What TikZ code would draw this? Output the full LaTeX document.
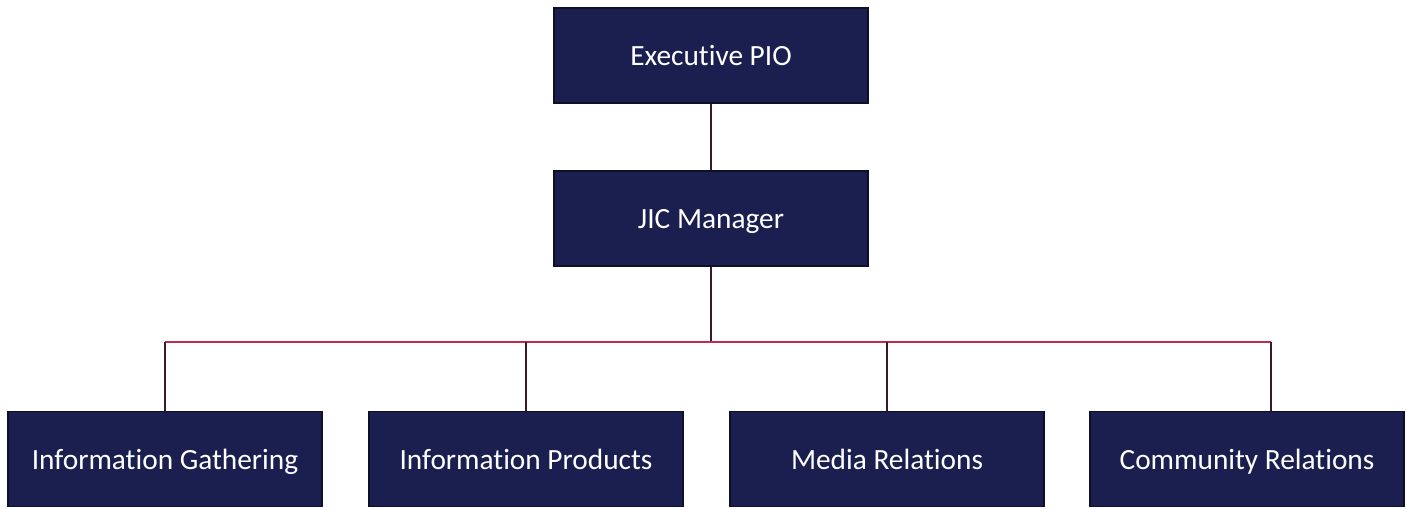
\documentclass[tikz,border=0pt]{standalone}
\usepackage{fontspec}
\setmainfont{Carlito}[Ligatures={NoCommon}]
\usepackage{tikz}
\usetikzlibrary{positioning}
\definecolor{navy}{RGB}{26,31,79}
\definecolor{navyedge}{RGB}{14,16,40}
\definecolor{busred}{RGB}{190,45,80}
\definecolor{stemdark}{RGB}{60,24,40}

\begin{document}
\begin{tikzpicture}[node distance=2cm,on grid]
      \tikzset{unit/.style={draw=navyedge,line width=0.6pt,fill=navy,text=white,
          minimum width=6.28cm,minimum height=1.9cm,inner sep=0pt,
          text height=13.7pt,text depth=1.8pt,
          font=\fontsize{16.7}{20}\selectfont}}
      \tikzset{stem/.style={draw=stemdark,line width=0.7pt}}
      \tikzset{bus/.style={draw=busred,line width=0.9pt}}
      \useasboundingbox (0,0) rectangle (28.12,-10.2);

      \node[unit] (pio) at (14.22,-1.11) {Executive PIO};
      \node[unit] (jic) [below = 3.26cm of pio] {JIC Manager};
      \node[unit] (gather) [below left = 4.81cm and 10.92cm of jic] {Information Gathering};
      \node[unit] (prod) [right = 7.22cm of gather] {Information Products};
      \node[unit] (media) [right = 7.22cm of prod] {Media Relations};
      \node[unit] (comm) [right = 7.2cm of media] {Community Relations};

      \coordinate (hub) at ([yshift=-2.47cm]jic.center);
      \coordinate (cr) at ([xshift=0.48cm]comm.north);

      \draw[stem] (pio) -- (jic);
      \draw[stem] (jic) -- (hub);
      \draw[bus] (hub -| gather) -- (hub -| cr);
      \draw[stem] (hub -| gather) -- (gather);
      \draw[stem] (hub -| prod) -- (prod);
      \draw[stem] (hub -| media) -- (media);
      \draw[stem] (hub -| cr) -- (cr);
    \end{tikzpicture}
\end{document}
